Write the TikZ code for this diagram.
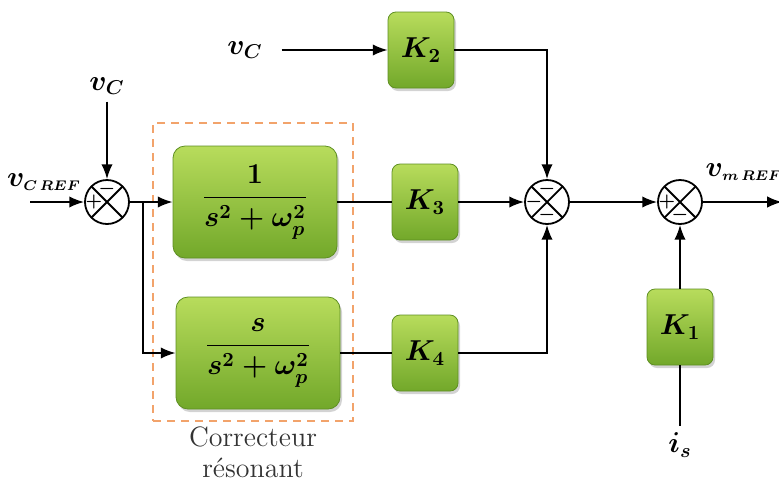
\documentclass[tikz,border=0pt]{standalone}
\usepackage{amsmath}
\usepackage{bm}
\usetikzlibrary{positioning, arrows.meta, calc, shadows}
\definecolor{leafhi}{HTML}{B8DC5C}
\definecolor{leaflo}{HTML}{72A82A}
\definecolor{leafrim}{HTML}{5E8F22}
\definecolor{orangeline}{HTML}{F2A36B}

\begin{document}
\begin{tikzpicture}[
  x=0.5pt, y=-0.5pt,
  font=\Large,
  block/.style={draw=leafrim, rounded corners=6pt, top color=leafhi, bottom color=leaflo, drop shadow={opacity=0.35, shadow xshift=1pt, shadow yshift=-1.5pt}, align=center, inner sep=2pt},
  gain/.style={block, rounded corners=4pt, minimum width=33pt, minimum height=38pt},
  tf/.style={block, minimum width=82pt, minimum height=56pt},
  sum/.style={circle, draw, line width=0.9pt, minimum size=22pt, inner sep=0pt,
    path picture={\draw[line width=0.9pt] (path picture bounding box.north west) -- (path picture bounding box.south east)
      (path picture bounding box.north east) -- (path picture bounding box.south west);}},
  sgn/.style={font=\small, inner sep=0pt},
  corr/.style={draw=orangeline, dashed, line width=1.2pt, dash pattern=on 4pt off 3pt, minimum width=100pt, minimum height=149pt},
  arr/.style={-{Latex[length=2.6mm, width=2mm]}, line width=0.9pt},
  wire/.style={line width=0.9pt}
]
  \useasboundingbox (0,0) rectangle (779,488);

  % resonant corrector frame
  \node[corr] (frame) at (253,272) {};
  \node[font=\rmfamily\fontsize{14}{15.5}\selectfont, align=center, text=black!80, below=0pt of frame, inner sep=2pt] (framelbl) {Correcteur\\résonant};

  % summing junctions
  \node[sum] (s1) at (107,202) {};
  \node[sum] (s2) at (547,202) {};
  \node[sum] (s3) at (680,202) {};

  % blocks
  \node[tf] (tf1) at (255,202) {$\bm{\dfrac{1}{s^2+\omega_p^2}}$};
  \node[tf] (tf2) at (258,353) {$\bm{\dfrac{s}{s^2+\omega_p^2}}$};
  \node[gain] (k2) at (421,50) {$\bm{K_2}$};
  \node[gain] (k3) at (425,202) {$\bm{K_3}$};
  \node[gain] (k4) at (425,353) {$\bm{K_4}$};
  \node[gain] (k1) at (680,327) {$\bm{K_1}$};

  % signals
  \node (vc1) at (107,86) {$\bm{v_C}$};
  \node (vcref) at (44,182) {$\bm{v}_{\bm{\scriptscriptstyle C\,REF}}$};
  \node (vc2) at (245,50) {$\bm{v_C}$};
  \node (vmref) at (744,172) {$\bm{v}_{\bm{\scriptscriptstyle m\,REF}}$};
  \node (is) at (680,445) {$\bm{i_s}$};
  \coordinate (in) at (30,202);
  \coordinate (br) at (143,202);
  \coordinate (out) at (782,202);

  % signs
  \node[sgn] at ([yshift=6.5pt]s1.center) {$\bm{-}$};
  \node[sgn] at ([xshift=-6.5pt]s1.center) {$\bm{+}$};
  \node[sgn] at ([yshift=6.5pt]s2.center) {$\bm{-}$};
  \node[sgn] at ([xshift=-6.5pt]s2.center) {$\bm{-}$};
  \node[sgn] at ([yshift=-6.5pt]s2.center) {$\bm{-}$};
  \node[sgn] at ([xshift=-6.5pt]s3.center) {$\bm{+}$};
  \node[sgn] at ([yshift=-6.5pt]s3.center) {$\bm{-}$};

  % connections
  \draw[arr] (vc1) -- (s1);
  \draw[arr] (in) -- (s1);
  \draw[wire] (s1) -- (br);
  \draw[arr] (br) -- (tf1);
  \draw[arr] (br) |- (tf2);
  \draw[wire] (tf1) -- (k3);
  \draw[wire] (tf2) -- (k4);
  \draw[arr] (k3) -- (s2);
  \draw[arr, shorten <=6pt] (vc2) -- (k2);
  \draw[arr] (k2) -| (s2);
  \draw[arr] (k4) -| (s2);
  \draw[arr] (s2) -- (s3);
  \draw[arr] (s3) -- (out);
  \draw[arr] (k1) -- (s3);
  \draw[wire] (is) -- (k1);
\end{tikzpicture}
\end{document}
